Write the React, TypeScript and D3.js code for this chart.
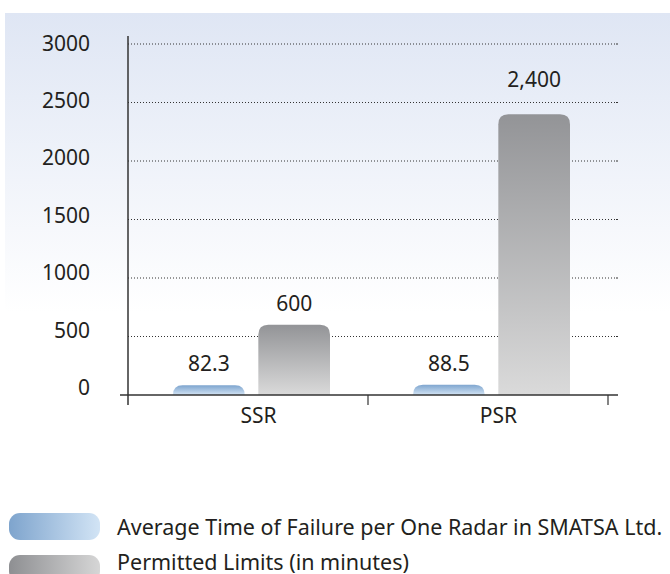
// @ts-nocheck
import React, { useEffect, useRef } from 'react';
import * as d3 from 'd3';

const categories = ['SSR', 'PSR'];
const seriesNames = ['Average Time of Failure per One Radar in SMATSA Ltd.', 'Permitted Limits (in minutes)'];
const averageFailure = [82.3, 88.5];
const permittedLimits = [600, 2400];
const valueLabels = [['82.3', '600'], ['88.5', '2,400']];
const yTicks = [0, 500, 1000, 1500, 2000, 2500, 3000];

const App = () => {
  const ref = useRef(null);

  useEffect(() => {
    const svg = d3.select(ref.current);
    svg.selectAll('*').remove();

    const W = 670;
    const left = 128, right = 608, top = 44, bottom = 395;
    const font = '"Noto Sans", sans-serif';
    const ink = '#231f20';

    const defs = svg.append('defs');
    const bg = defs.append('linearGradient').attr('id', 'bg').attr('x1', 0).attr('y1', 0).attr('x2', 0).attr('y2', 1);
    bg.append('stop').attr('offset', 0).attr('stop-color', '#dfe6f4');
    bg.append('stop').attr('offset', 0.75).attr('stop-color', '#ffffff');

    const mk = (id, c1, c2, horiz) => {
      const g = defs.append('linearGradient').attr('id', id)
        .attr('x1', 0).attr('y1', 0).attr('x2', horiz ? 1 : 0).attr('y2', horiz ? 0 : 1);
      g.append('stop').attr('offset', 0).attr('stop-color', c1);
      g.append('stop').attr('offset', 1).attr('stop-color', c2);
    };
    mk('blueV', '#7ea5cf', '#d3e4f4', false);
    mk('grayV', '#939497', '#dadada', false);
    mk('blueH', '#7ea4cd', '#d2e4f5', true);
    mk('grayH', '#8e8f92', '#d6d6d6', true);

    svg.append('rect').attr('x', 5).attr('y', 13).attr('width', W - 5).attr('height', 400).attr('fill', 'url(#bg)');

    const y = d3.scaleLinear().domain([0, 3000]).range([bottom, top]);
    const x0 = d3.scaleBand().domain(categories).range([left, right]).paddingInner(0).paddingOuter(0);
    const x1 = d3.scaleBand().domain(['avg', 'lim']).range([45, 202]).paddingInner(0.16);

    // gridlines
    svg.append('g').selectAll('line').data(yTicks.filter(d => d > 0)).enter().append('line')
      .attr('x1', left).attr('x2', 617).attr('y1', d => y(d)).attr('y2', d => y(d))
      .attr('stroke', '#333').attr('stroke-width', 1).attr('stroke-dasharray', '1,2');
    svg.append('g').selectAll('line').data(yTicks.filter(d => d > 0)).enter().append('line')
      .attr('x1', 616).attr('x2', 618).attr('y1', d => y(d)).attr('y2', d => y(d))
      .attr('stroke', '#333').attr('stroke-width', 1);

    // y tick labels
    svg.append('g').selectAll('text').data(yTicks).enter().append('text')
      .attr('x', 90).attr('y', (d, i) => y(d) - 8 + i * 1.1)
      .attr('text-anchor', 'end').attr('dominant-baseline', 'central')
      .attr('font-family', font).attr('font-size', 21).attr('fill', ink)
      .text(d => d);

    // bars
    const data = categories.map((c, i) => ({ c, i, vals: [
      { k: 'avg', v: averageFailure[i], label: valueLabels[i][0], fill: 'url(#blueV)' },
      { k: 'lim', v: permittedLimits[i], label: valueLabels[i][1], fill: 'url(#grayV)' },
    ] }));

    const groups = svg.append('g').selectAll('g').data(data).enter().append('g')
      .attr('transform', d => `translate(${x0(d.c)},0)`);

    groups.selectAll('path').data(d => d.vals).enter().append('path')
      .attr('d', d => {
        const x = x1(d.k), w = x1.bandwidth(), yt = y(d.v), h = bottom - yt;
        const r = Math.min(10, h);
        return `M${x},${bottom}V${yt + r}Q${x},${yt} ${x + r},${yt}H${x + w - r}Q${x + w},${yt} ${x + w},${yt + r}V${bottom}Z`;
      })
      .attr('fill', d => d.fill);

    groups.selectAll('text').data(d => d.vals).enter().append('text')
      .attr('x', d => x1(d.k) + x1.bandwidth() / 2)
      .attr('y', d => y(d.v) - (d.v > 2000 ? 27 : 14))
      .attr('text-anchor', 'middle')
      .attr('font-family', font).attr('font-size', 21).attr('fill', ink)
      .text(d => d.label);

    // axes
    svg.append('line').attr('x1', left).attr('x2', left).attr('y1', 36).attr('y2', 405)
      .attr('stroke', '#333').attr('stroke-width', 1.5);
    svg.append('line').attr('x1', 120).attr('x2', 618).attr('y1', bottom).attr('y2', bottom)
      .attr('stroke', '#333').attr('stroke-width', 1.5);
    svg.append('g').selectAll('line').data(categories).enter().append('line')
      .attr('x1', d => x0(d) + x0.bandwidth()).attr('x2', d => x0(d) + x0.bandwidth())
      .attr('y1', bottom).attr('y2', 405).attr('stroke', '#333').attr('stroke-width', 1.2);

    svg.append('g').selectAll('text').data(categories).enter().append('text')
      .attr('x', d => x0(d) + (x1.range()[0] + x1.range()[1]) / 2 + 7)
      .attr('y', 415).attr('text-anchor', 'middle').attr('dominant-baseline', 'central')
      .attr('font-family', font).attr('font-size', 21).attr('fill', ink)
      .text(d => d);

    // legend
    const legend = svg.append('g').selectAll('g').data(seriesNames).enter().append('g')
      .attr('transform', (d, i) => `translate(9,${513 + i * 42})`);
    legend.append('rect').attr('width', 91).attr('height', 27).attr('rx', 11)
      .attr('fill', (d, i) => (i === 0 ? 'url(#blueH)' : 'url(#grayH)'));
    legend.append('text').attr('x', 108).attr('y', (d, i) => (i === 0 ? 13 : 6)).attr('dominant-baseline', 'central')
      .attr('font-family', font).attr('font-size', 21.5).attr('fill', ink)
      .text(d => d);
  }, []);

  return <svg ref={ref} width={670} height={574} style={{ position: 'absolute', left: 0, top: 0 }} />;
};

export default App;
